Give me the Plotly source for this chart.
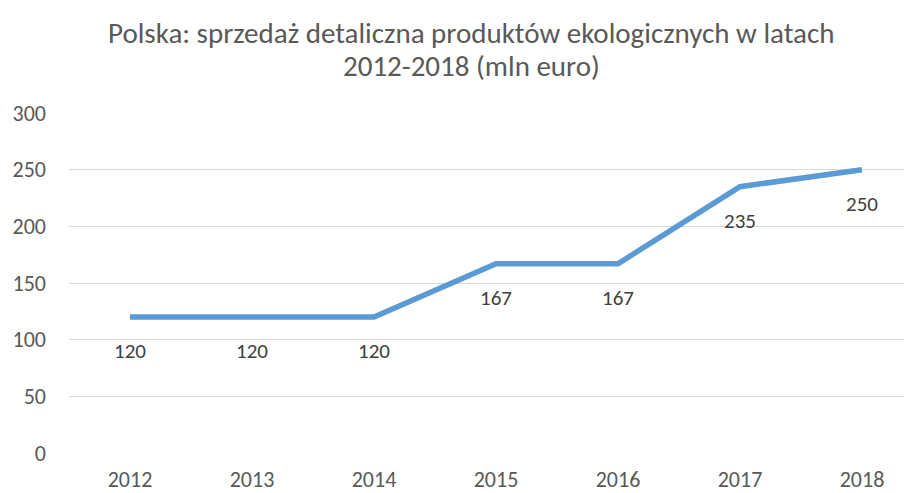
import plotly.graph_objects as go

years = ["2012", "2013", "2014", "2015", "2016", "2017", "2018"]
sales = [120, 120, 120, 167, 167, 235, 250]
y_ticks = [0, 50, 100, 150, 200, 250, 300]
title_lines = ["Polska: sprzedaż detaliczna produktów ekologicznych w latach",
               "2012-2018 (mln euro)"]

FONT = "Carlito, Lato, 'Open Sans', sans-serif"
GREY = "#595959"

fig = go.Figure()
fig.add_trace(go.Scatter(
    x=list(range(len(years))), y=sales, mode="lines",
    line=dict(color="#5B9BD5", width=5.5), hoverinfo="skip", showlegend=False,
))
for i, v in enumerate(sales):
    fig.add_annotation(x=i, y=v, text=str(v), showarrow=False, yshift=-34,
                       font=dict(size=21, color="#404040", family=FONT))

# title, two lines placed separately for exact line spacing
for k, (line, ypix) in enumerate(zip(title_lines, [25, 58])):
    fig.add_annotation(text=line, xref="paper", yref="paper", x=0.477,
                       y=1 + (105 - ypix) / 340, xanchor="center", yanchor="middle",
                       showarrow=False, font=dict(size=29, color=GREY, family=FONT))

fig.update_layout(
    width=904, height=485,
    margin=dict(l=61, r=0, t=105, b=40),
    paper_bgcolor="white", plot_bgcolor="white",
    font=dict(family=FONT, color=GREY, size=21),
    xaxis=dict(tickmode="array", tickvals=list(range(len(years))), ticktext=years,
               range=[-0.5, 6.41], showgrid=False, zeroline=False, showline=False,
               ticks="", ticklabelstandoff=11, tickfont=dict(size=22, color=GREY)),
    yaxis=dict(range=[0, 300], tickvals=y_ticks, showgrid=True, gridcolor="#D9D9D9",
               gridwidth=1.3, zeroline=False, showline=False, ticks="",
               ticklabelstandoff=22, tickfont=dict(size=22, color=GREY)),
)
fig.write_html("out.html")
